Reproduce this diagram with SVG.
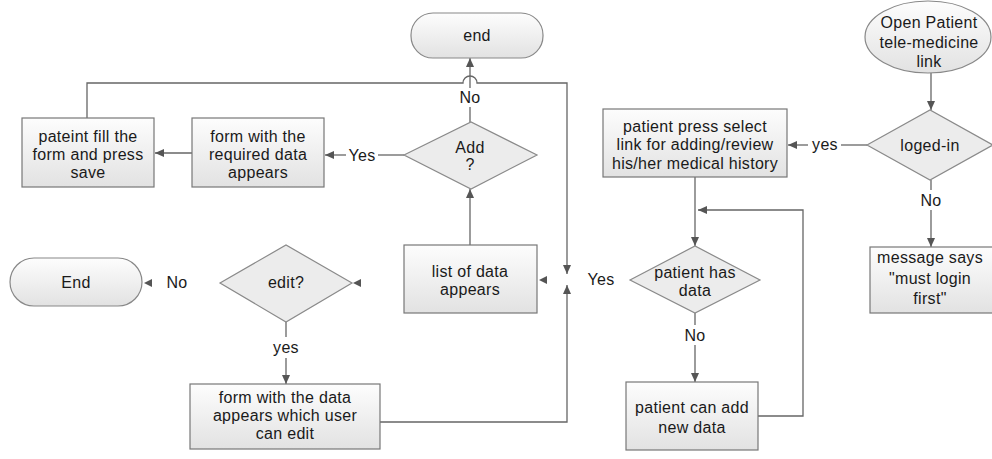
<svg xmlns="http://www.w3.org/2000/svg" width="992" height="459" viewBox="0 0 992 459">
<defs>
<linearGradient id="g" x1="0" y1="0" x2="0" y2="1"><stop offset="0" stop-color="#fdfdfd"/><stop offset="1" stop-color="#e2e2e2"/></linearGradient>
<marker id="ah" markerUnits="userSpaceOnUse" markerWidth="9" markerHeight="8" refX="9" refY="4" orient="auto"><path d="M0,0 L9,4 L0,8 z" fill="#555"/></marker>
<path id="al" d="M0,0 L8,-4 L8,4 z" fill="#555"/>
</defs>
<style>
.box{fill:url(#g);stroke:#777;stroke-width:1.2}
.dia{fill:#ececec;stroke:#8a8a8a;stroke-width:1.2}
.term{fill:url(#g);stroke:#888;stroke-width:1.2}
.ln{fill:none;stroke:#666;stroke-width:1.3}
.arr{marker-end:url(#ah)}
text{font-family:"Liberation Sans",Arial,sans-serif;font-size:16px;letter-spacing:0.3px;fill:#1a1a1a;text-anchor:middle;dominant-baseline:central}
</style>
<rect width="992" height="459" fill="#fff"/>
<g id="connectors">
<line class="ln arr" x1="931" y1="73" x2="931" y2="110"/>
<line class="ln" x1="867" y1="145" x2="841" y2="145"/>
<line class="ln arr" x1="808" y1="145" x2="788" y2="145"/>
<text x="825" y="144">yes</text>
<line class="ln" x1="931" y1="180" x2="931" y2="190"/>
<text x="931" y="200">No</text>
<line class="ln arr" x1="931" y1="210" x2="931" y2="247"/>
<line class="ln arr" x1="695" y1="177" x2="695" y2="246"/>
<line class="ln" x1="695" y1="313" x2="695" y2="325"/>
<text x="695" y="335">No</text>
<line class="ln arr" x1="695" y1="345" x2="695" y2="382"/>
<path class="ln arr" d="M758,416 H803 V210 H698"/>
<path class="ln arr" d="M87,118 V83 H463 A7,7 0 0 1 477,83 H567 V274"/>
<path class="ln arr" d="M380,422 H567 V285"/>
<text x="601" y="279">Yes</text>
<use href="#al" x="539" y="280"/>
<line class="ln arr" x1="470" y1="245" x2="470" y2="189"/>
<line class="ln" x1="470" y1="122" x2="470" y2="107"/>
<text x="470" y="97">No</text>
<line class="ln arr" x1="470" y1="88" x2="470" y2="58"/>
<line class="ln" x1="404" y1="155" x2="378" y2="155"/>
<text x="362" y="155">Yes</text>
<line class="ln arr" x1="346" y1="155" x2="325" y2="155"/>
<line class="ln arr" x1="192" y1="153" x2="155" y2="153"/>
<line class="ln" x1="286" y1="322" x2="286" y2="337"/>
<text x="286" y="347">yes</text>
<line class="ln arr" x1="286" y1="358" x2="286" y2="384"/>
<use href="#al" x="353" y="283"/>
<use href="#al" x="144" y="283"/>
<text x="177" y="282">No</text>
</g>
<g id="start">
<ellipse class="term" cx="928" cy="37" rx="63" ry="36"/>
<text x="929" y="22">Open Patient</text>
<text x="929" y="42">tele-medicine</text>
<text x="929" y="61">link</text>
</g>
<g id="logedin">
<polygon class="dia" points="867,145 930,110 993,145 930,180"/>
<text x="930" y="145">loged-in</text>
</g>
<g id="mustlogin">
<rect class="box" x="870" y="247" width="130" height="66"/>
<text x="930" y="257">message says</text>
<text x="930" y="278">"must login</text>
<text x="930" y="298">first"</text>
</g>
<g id="select">
<rect class="box" x="603" y="109" width="184" height="68"/>
<text x="695" y="126">patient press select</text>
<text x="695" y="144">link for adding/review</text>
<text x="695" y="163">his/her medical history</text>
</g>
<g id="hasdata">
<polygon class="dia" points="630,280 695,246 760,280 695,313"/>
<text x="695" y="272">patient has</text>
<text x="695" y="290">data</text>
</g>
<g id="adddata">
<rect class="box" x="626" y="382" width="132" height="68"/>
<text x="692" y="407">patient can add</text>
<text x="692" y="427">new data</text>
</g>
<g id="list">
<rect class="box" x="404" y="245" width="133" height="68"/>
<text x="470" y="271">list of data</text>
<text x="470" y="289">appears</text>
</g>
<g id="add">
<polygon class="dia" points="404,155 471,122 537,155 471,189"/>
<text x="470" y="147">Add</text>
<text x="470" y="164">?</text>
</g>
<g id="endTop">
<rect class="term" x="411" y="13" width="132" height="45" rx="22"/>
<text x="477" y="35">end</text>
</g>
<g id="formReq">
<rect class="box" x="192" y="118" width="132" height="69"/>
<text x="258" y="136">form with the</text>
<text x="258" y="154">required data</text>
<text x="258" y="172">appears</text>
</g>
<g id="fillSave">
<rect class="box" x="22" y="118" width="132" height="69"/>
<text x="88" y="136">pateint fill the</text>
<text x="88" y="154">form and press</text>
<text x="88" y="172">save</text>
</g>
<g id="edit">
<polygon class="dia" points="220,283 286,245 352,283 286,322"/>
<text x="286" y="282">edit?</text>
</g>
<g id="endLeft">
<rect class="term" x="10" y="258" width="132" height="48" rx="24"/>
<text x="76" y="282">End</text>
</g>
<g id="editForm">
<rect class="box" x="190" y="384" width="190" height="65"/>
<text x="285" y="397">form with the data</text>
<text x="285" y="415">appears which user</text>
<text x="285" y="433">can edit</text>
</g>
</svg>
